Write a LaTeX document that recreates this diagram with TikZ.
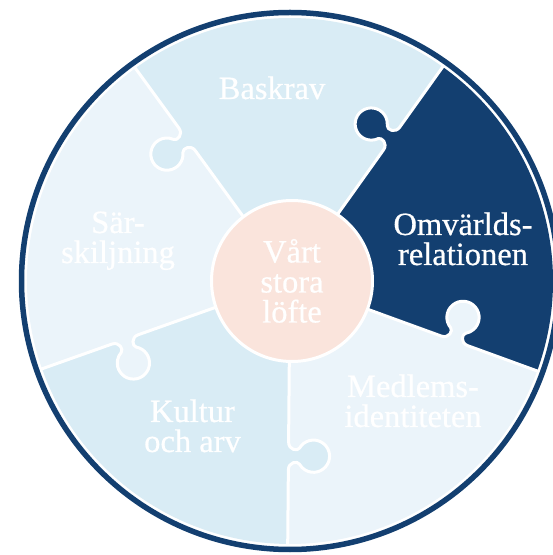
\documentclass[tikz,border=0pt]{standalone}
\usepackage{fontspec}
\setmainfont{Liberation Serif}
\newfontfamily\lblfont{Liberation Serif}[FakeBold=0.6]
\definecolor{navy}{RGB}{19,63,112}
\definecolor{pieceA}{RGB}{217,236,245}
\definecolor{pieceB}{RGB}{235,244,250}
\definecolor{core}{RGB}{250,228,220}
\begin{document}
\begin{tikzpicture}[x=1pt,y=1pt,
  lbl/.style={text=white, font=\lblfont\fontsize{32.5}{30}\selectfont, align=center, anchor=base, inner sep=0pt},
  sepline/.style={white, line width=3pt, line join=round, line cap=round}]
\useasboundingbox (0,0) rectangle (553,555);
\def\kc{175}
\def\R{263}
\coordinate (C) at (290,274);
\fill[white] (C) circle[radius=266];
% pieces
\fill[pieceA] (C) -- ++(54.5:\R) arc[start angle=54.5, end angle=126, radius=\R] -- cycle;
\fill[pieceB] (C) -- ++(126:\R) arc[start angle=126, end angle=199.5, radius=\R] -- cycle;
\fill[pieceA] (C) -- ++(199.5:\R) arc[start angle=199.5, end angle=269.5, radius=\R] -- cycle;
\fill[pieceB] (C) -- ++(269.5:\R) arc[start angle=269.5, end angle=340, radius=\R] -- cycle;
\fill[navy] (C) -- ++(-20:\R) arc[start angle=-20, end angle=54.5, radius=\R] -- cycle;
% knobs
\foreach \ang/\col in {126/pieceA, 54.5/navy, -20/pieceB, 269.5/pieceA, 199.5/pieceB} {
  \begin{scope}[shift={(C)}, rotate=\ang]
    \fill[\col] ({\kc-14},-1) -- ({\kc-14},0) .. controls ({\kc-6},0) and ({\kc-4.5},9) .. ({\kc-8},11)
      arc[start angle=240.26, end angle=-60.26, radius=16.12]
      .. controls ({\kc+4.5},9) and ({\kc+6},0) .. ({\kc+14},0) -- ({\kc+14},-1) -- cycle;
  \end{scope}
}
% separator lines
\foreach \ang in {126, 54.5, -20, 269.5, 199.5} {
  \begin{scope}[shift={(C)}, rotate=\ang]
    \draw[sepline] (0,0) -- ({\kc-14},0) .. controls ({\kc-6},0) and ({\kc-4.5},9) .. ({\kc-8},11)
      arc[start angle=240.26, end angle=-60.26, radius=16.12]
      .. controls ({\kc+4.5},9) and ({\kc+6},0) .. ({\kc+14},0) -- (264,0);
  \end{scope}
}
% outer ring
\draw[navy, line width=5.5pt] (C) circle[radius=268.5];
% centre
\draw[white, line width=3pt, fill=core] (292,274) circle[radius=80.5];
% labels (anchor=base is the baseline of the last line)
\node[lbl] (baskrav) at (272,456) {Baskrav};
\node[lbl] (omv) at (463,290) {Omvärlds-\\relationen};
\node[lbl] (sar) at (118,292) {Sär-\\skiljning};
\node[lbl] (core) at (292,232.5) {Vårt\\stora\\löfte};
\node[lbl] (med) at (413,128) {Medlems-\\identiteten};
\node[lbl] (kul) at (192.5,103) {Kultur\\och arv};
\end{tikzpicture}
\end{document}
